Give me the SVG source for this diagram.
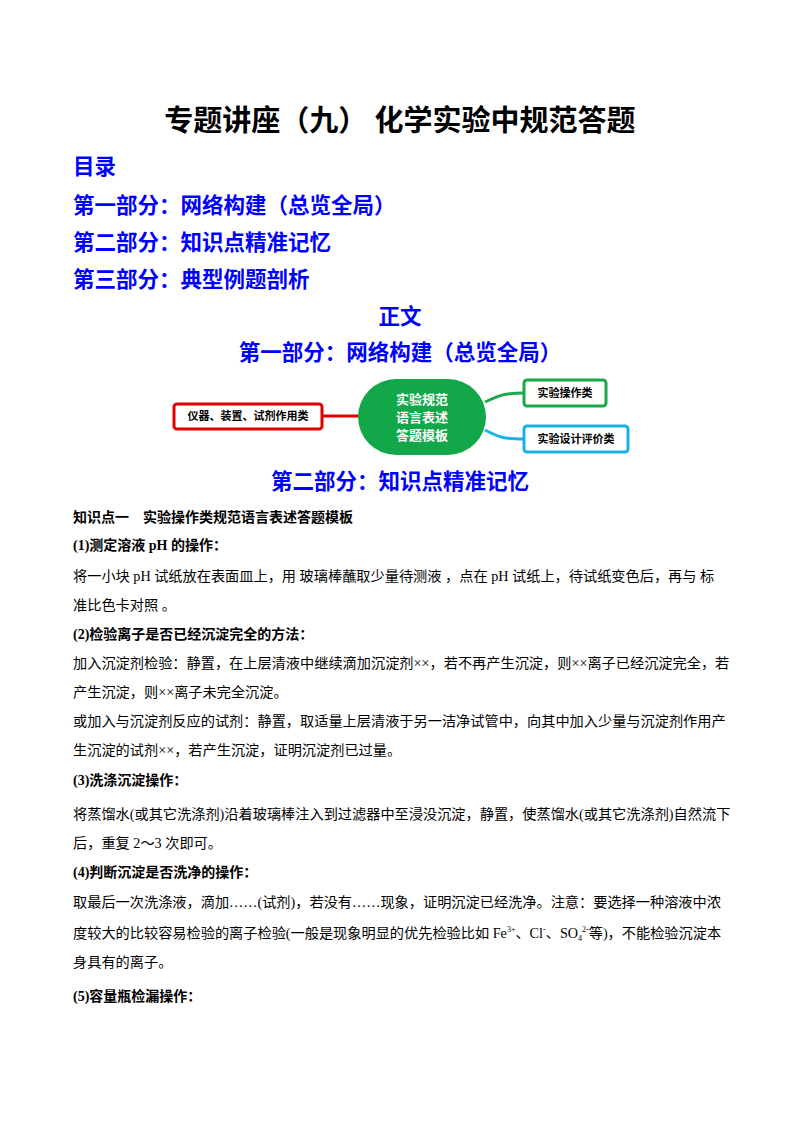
<svg xmlns="http://www.w3.org/2000/svg" width="800" height="1132" viewBox="0 0 800 1132">
<style>
text{font-family:"Liberation Serif","Noto Sans CJK SC",serif;fill:#000}
.h{font-weight:bold;fill:#0000ff;font-size:21.5px}
.b{font-size:14.2px}
.bb{font-size:14px;font-weight:bold}
.m{font-family:"Noto Sans CJK SC",sans-serif;font-weight:bold;font-size:11px}
</style>
<rect width="800" height="1132" fill="#fff"/>
<text x="400" y="131" text-anchor="middle" font-size="29" font-weight="bold">专题讲座（九） 化学实验中规范答题</text>
<text class="h" x="73" y="174">目录</text>
<text class="h" x="73" y="213">第一部分：网络构建（总览全局）</text>
<text class="h" x="73" y="250">第二部分：知识点精准记忆</text>
<text class="h" x="73" y="287">第三部分：典型例题剖析</text>
<text class="h" x="400" y="324" text-anchor="middle">正文</text>
<text class="h" x="400" y="360" text-anchor="middle">第一部分：网络构建（总览全局）</text>
<g id="connectors" fill="none" stroke-width="3">
<path d="M322 416H360" stroke="#e00000"/>
<path d="M485 402C500 395 505 393 524 393" stroke="#1aa84a"/>
<path d="M485 430C500 438 505 439 524 439" stroke="#1ab0e8"/>
</g>
<g id="n-center"><rect x="358" y="379" width="128" height="76" rx="38" fill="#12a84a"/>
<text class="m" style="fill:#fff;font-size:13px" x="422" y="404" text-anchor="middle">实验规范</text>
<text class="m" style="fill:#fff;font-size:13px" x="422" y="422" text-anchor="middle">语言表述</text>
<text class="m" style="fill:#fff;font-size:13px" x="422" y="440" text-anchor="middle">答题模板</text></g>
<g id="n-left"><rect x="174" y="404" width="148" height="25" rx="3" fill="#fff" stroke="#e00000" stroke-width="3"/><text class="m" x="248" y="420" text-anchor="middle">仪器、装置、试剂作用类</text></g>
<g id="n-op"><rect x="524" y="380" width="82" height="26" rx="3" fill="#fff" stroke="#1aa84a" stroke-width="3"/><text class="m" x="565" y="397" text-anchor="middle">实验操作类</text></g>
<g id="n-design"><rect x="524" y="426" width="104" height="26" rx="3" fill="#fff" stroke="#1ab0e8" stroke-width="3"/><text class="m" x="576" y="443" text-anchor="middle">实验设计评价类</text></g>
<text class="h" x="400" y="489" text-anchor="middle">第二部分：知识点精准记忆</text>
<text class="bb" x="73" y="522">知识点一　实验操作类规范语言表述答题模板</text>
<text class="bb" x="73" y="550">(1)测定溶液 pH 的操作：</text>
<text class="b" x="73" y="581">将一小块 pH 试纸放在表面皿上，用  玻璃棒蘸取少量待测液 ，点在 pH 试纸上，待试纸变色后，再与  标</text>
<text class="b" x="73" y="610">准比色卡对照  。</text>
<text class="bb" x="73" y="639">(2)检验离子是否已经沉淀完全的方法：</text>
<text class="b" x="73" y="668">加入沉淀剂检验：静置，在上层清液中继续滴加沉淀剂××，若不再产生沉淀，则××离子已经沉淀完全，若</text>
<text class="b" x="73" y="697">产生沉淀，则××离子未完全沉淀。</text>
<text class="b" x="73" y="726">或加入与沉淀剂反应的试剂：静置，取适量上层清液于另一洁净试管中，向其中加入少量与沉淀剂作用产</text>
<text class="b" x="73" y="755">生沉淀的试剂××，若产生沉淀，证明沉淀剂已过量。</text>
<text class="bb" x="73" y="785">(3)洗涤沉淀操作：</text>
<text class="b" x="73" y="819">将蒸馏水(或其它洗涤剂)沿着玻璃棒注入到过滤器中至浸没沉淀，静置，使蒸馏水(或其它洗涤剂)自然流下</text>
<text class="b" x="73" y="848">后，重复 2～3 次即可。</text>
<text class="bb" x="73" y="877">(4)判断沉淀是否洗净的操作：</text>
<text class="b" x="73" y="907">取最后一次洗涤液，滴加……(试剂)，若没有……现象，证明沉淀已经洗净。注意：要选择一种溶液中浓</text>
<text class="b" x="73" y="938">度较大的比较容易检验的离子检验(一般是现象明显的优先检验比如 Fe<tspan font-size="8" dy="-6">3+</tspan><tspan dy="6">、Cl</tspan><tspan font-size="8" dy="-6">-</tspan><tspan dy="6">、SO</tspan><tspan font-size="8" dy="3">4</tspan><tspan font-size="8" dy="-9">2-</tspan><tspan dy="6">等)，不能检验沉淀本</tspan></text>
<text class="b" x="73" y="967">身具有的离子。</text>
<text class="bb" x="73" y="1001">(5)容量瓶检漏操作：</text>
</svg>
